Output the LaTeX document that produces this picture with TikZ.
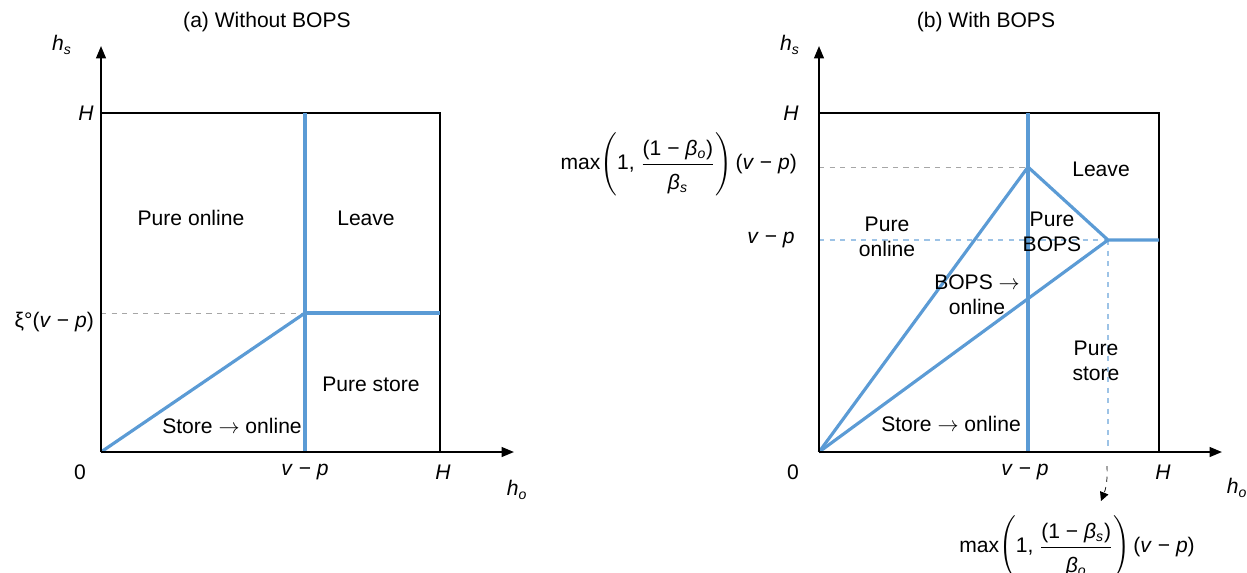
\documentclass[tikz,border=0pt]{standalone}
\usepackage{fontspec,amsmath}
\setmainfont{Liberation Sans}
\usetikzlibrary{arrows.meta}
\definecolor{Blue}{HTML}{5B9BD5}
\definecolor{LightBlue}{HTML}{9DC3E6}
\newcommand{\iv}[1]{\textit{#1}}
\newcommand{\vmp}{\iv{v} − \iv{p}}
\newcommand{\maxfr}[2]{max$\Biggl(\text{1, }\dfrac{\text{(1 − \iv{β}\textsubscript{\iv{#1}})}}{\rule{0pt}{13pt}\text{\iv{β}\textsubscript{\iv{#2}}}}\Biggr)$\,(\vmp)}

\begin{document}
\begin{tikzpicture}[x=0.02cm,y=-0.02cm,
    axis/.style={line width=1.1pt,-{Triangle[length=7pt,width=5.5pt]}},
    frame/.style={line width=0.9pt},
    region/.style={line width=1.8pt,Blue},
    guide/.style={gray!70,dashed,line width=0.4pt},
    bguide/.style={LightBlue,dashed,line width=0.7pt},
    lbl/.style={font=\fontsize{12}{14}\selectfont,align=center,inner sep=1pt}]
  \useasboundingbox (0,0) rectangle (1247,572);
  % (a) without BOPS
  \node[lbl] (ta) at (267,22) {(a) Without BOPS};
  \coordinate (aO) at (101,452);
  \coordinate (aY) at (101,46);
  \coordinate (aX) at (514,452);
  \coordinate (aTL) at (101,113);
  \coordinate (aBR) at (440,452);
  \coordinate (aV) at (305,452);
  \coordinate (aVt) at (305,113);
  \coordinate (aK) at (305,313);
  \coordinate (aKl) at (101,313);
  \coordinate (aKr) at (440,313);
  \draw[guide] (aKl)--(aK);
  \draw[frame] (aTL) -| (aBR);
  \draw[region] (aVt)--(aV);
  \draw[region] (aK)--(aKr);
  \draw[region] (aO)--(aK);
  \draw[axis] (aO)--(aY);
  \draw[axis] (aO)--(aX);
  \node[lbl] (ahs) at (62,45) {\iv{h}\textsubscript{\iv{s}}};
  \node[lbl] (aH) at (86,113) {\iv{H}};
  \node[lbl,anchor=east] (axi) at (96,322) {ξ°(\vmp)};
  \node[lbl] (a0) at (80,472) {0};
  \node[lbl] (avp) at (305,472) {\vmp};
  \node[lbl] (aHx) at (443,472) {\iv{H}};
  \node[lbl] (aho) at (517,490) {\iv{h}\textsubscript{\iv{o}}};
  \node[lbl] (apo) at (191,218) {Pure online};
  \node[lbl] (ale) at (366,218) {Leave};
  \node[lbl] (aps) at (371,384) {Pure store};
  \node[lbl] (aso) at (232,426) {Store $\rightarrow$ online};
  % (b) with BOPS
  \node[lbl] (tb) at (986,22) {(b) With BOPS};
  \coordinate (bO) at (819,452);
  \coordinate (bY) at (819,46);
  \coordinate (bX) at (1222,452);
  \coordinate (bTL) at (819,113);
  \coordinate (bBR) at (1159,452);
  \coordinate (bV) at (1028,452);
  \coordinate (bVt) at (1028,113);
  \coordinate (bP) at (1028,167);
  \coordinate (bPl) at (819,167);
  \coordinate (bQ) at (1108,240);
  \coordinate (bQl) at (819,240);
  \coordinate (bQb) at (1108,452);
  \coordinate (bQr) at (1159,240);
  \draw[guide] (bPl)--(bP);
  \draw[bguide] (bQl)--(bQ);
  \draw[bguide] (bQ)--(bQb);
  \draw[frame] (bTL) -| (bBR);
  \draw[region] (bVt)--(bV);
  \draw[region] (bO)--(bP)--(bQ)--(bQr);
  \draw[region] (bO)--(bQ);
  \draw[axis] (bO)--(bY);
  \draw[axis] (bO)--(bX);
  \node[lbl] (bhs) at (790,45) {\iv{h}\textsubscript{\iv{s}}};
  \node[lbl] (bH) at (791,113) {\iv{H}};
  \node[lbl,anchor=east] (bmx) at (799,164) {\maxfr{o}{s}};
  \node[lbl] (bvp) at (771,240) {\vmp};
  \node[lbl] (b0) at (793,472) {0};
  \node[lbl] (bvpx) at (1025,472) {\vmp};
  \node[lbl] (bHx) at (1163,472) {\iv{H}};
  \node[lbl] (bho) at (1237,488) {\iv{h}\textsubscript{\iv{o}}};
  \node[lbl] (bmxo) at (1077,547) {\maxfr{s}{o}};
  \node[lbl] (ble) at (1101,169) {Leave};
  \node[lbl] (bpb) at (1052,232) {Pure\\BOPS};
  \node[lbl] (bpo) at (887,237) {Pure\\online};
  \node[lbl] (bbo) at (977,295) {BOPS $\rightarrow$\\online};
  \node[lbl] (bps) at (1096,361) {Pure\\store};
  \node[lbl] (bso) at (951,424) {Store $\rightarrow$ online};
  \coordinate (bA) at (1107,466);
  \coordinate (bB) at (1101,501);
  \draw[dashed,line width=0.4pt,-{Triangle[length=5pt,width=5pt]}] (bA) to[bend left=12] (bB);
\end{tikzpicture}
\end{document}
